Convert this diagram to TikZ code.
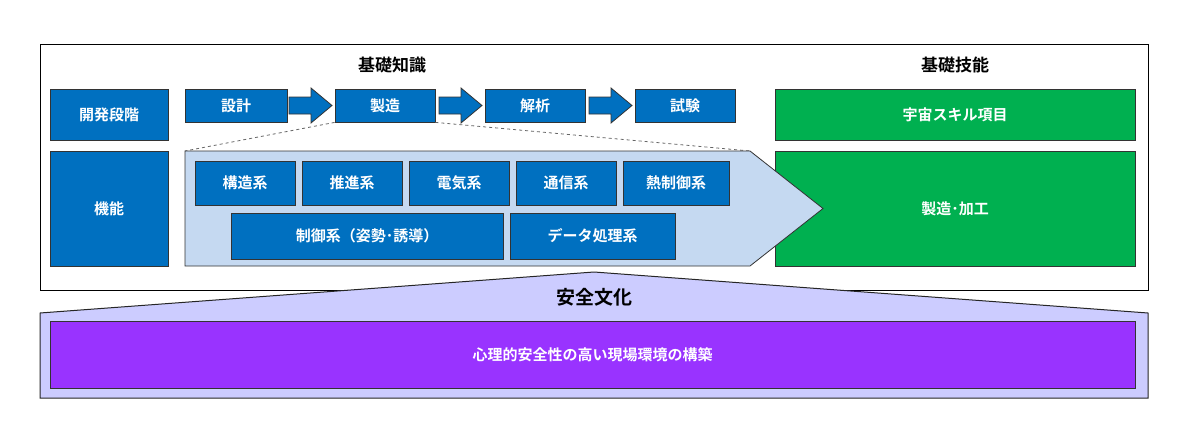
\documentclass[tikz,border=0pt]{standalone}
\usepackage{fontspec}
\setmainfont{Noto Sans CJK JP}[BoldFont={* Bold}]
\begin{document}
\begin{tikzpicture}[x=1pt,y=-1pt,
 bx/.style={draw=black!80,line width=0.8pt,fill=blue0,text=white,font=\bfseries\fontsize{15}{16}\selectfont,inner sep=0pt},
 gx/.style={bx,fill=green0},
 title/.style={font=\bfseries\fontsize{17}{18}\selectfont}]
\definecolor{blue0}{HTML}{0070C0}
\definecolor{green0}{HTML}{00B050}
\definecolor{purp}{HTML}{9933FF}
\definecolor{lav}{HTML}{CCCCFF}
\definecolor{lblue}{HTML}{C5D9F1}
\useasboundingbox (0,0) rectangle (1200,440);
\fill[white] (0,0) rectangle (1200,440);
\draw[line width=1pt,fill=white] (40,44) rectangle (1148,290);
\node[title] (t1) at (392,65) {基礎知識};
\node[title] (t2) at (955,65) {基礎技能};
\node[bx,minimum width=118,minimum height=51] (kh) at (109,114.5) {開発段階};
\node[bx,minimum width=118,minimum height=115] (ki) at (109,208.5) {機能};
\node[gx,minimum width=360,minimum height=51] (sk) at (955,114.5) {宇宙スキル項目};
\node[gx,minimum width=360,minimum height=115] (sz) at (955,208.5) {製造･加工};
\node[bx,minimum width=102,minimum height=33] (s1) at (236,105.5) {設計};
\node[bx,minimum width=100,minimum height=33] (s2) at (385,105.5) {製造};
\node[bx,minimum width=100,minimum height=33] (s3) at (535,105.5) {解析};
\node[bx,minimum width=100,minimum height=33] (s4) at (685,105.5) {試験};
\foreach \a in {289,439,589}{
 \draw[fill=blue0,draw=black!80,line width=0.8pt] (\a,97)--(\a+22,97)--(\a+22,88)--(\a+43,105.5)--(\a+22,123)--(\a+22,114)--(\a,114)--cycle;}
\draw[dashed,black!60,line width=0.8pt] (s2.south west)--(185,151) (s2.south east)--(750,151);
\draw[fill=lblue,draw=black!80,line width=0.8pt] (185,151)--(750,151)--(823,208.5)--(750,266)--(185,266)--cycle;
\node[bx,minimum width=100,minimum height=44] (f1) at (245,183) {構造系};
\node[bx,minimum width=100,minimum height=44] (f2) at (352,183) {推進系};
\node[bx,minimum width=100,minimum height=44] (f3) at (459,183) {電気系};
\node[bx,minimum width=100,minimum height=44] (f4) at (566,183) {通信系};
\node[bx,minimum width=106,minimum height=44] (f5) at (676,183) {熱制御系};
\node[bx,minimum width=272,minimum height=46] (f6) at (367,236) {制御系（姿勢･誘導）};
\node[bx,minimum width=165,minimum height=46] (f7) at (592.5,236) {データ処理系};
\draw[fill=lav,draw=black!85,line width=1pt] (40,313)--(594,272)--(1148,313)--(1148,398)--(40,398)--cycle;
\node[title,font=\bfseries\fontsize{19}{20}\selectfont] (an) at (594,297) {安全文化};
\node[bx,fill=purp,minimum width=1085,minimum height=67] (ps) at (592.5,354.5) {心理的安全性の高い現場環境の構築};
\end{tikzpicture}
\end{document}
